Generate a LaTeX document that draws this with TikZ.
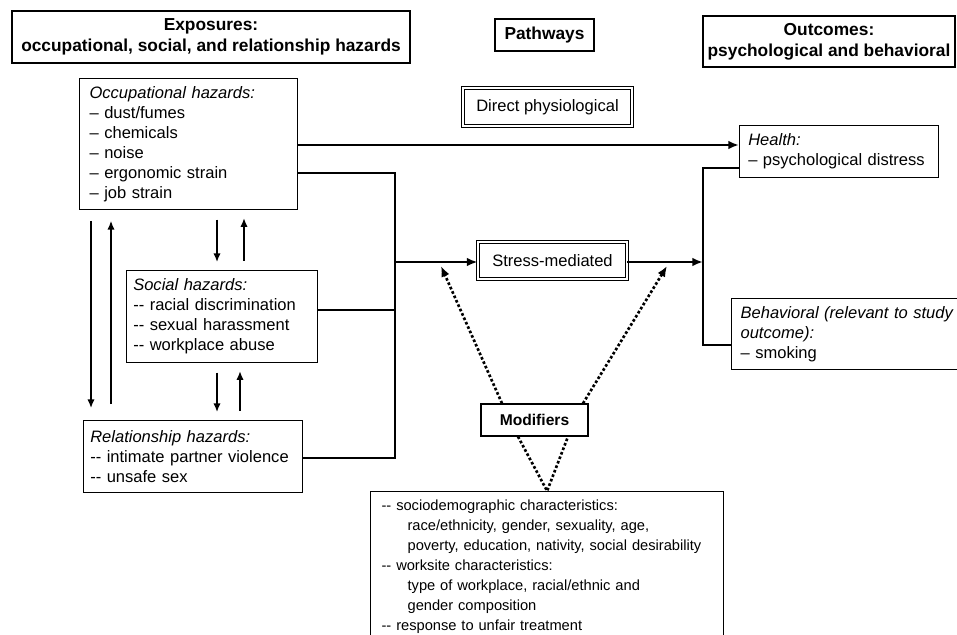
\documentclass[tikz,border=0pt]{standalone}
\usepackage{fontspec}
\setmainfont{Liberation Sans}
\usetikzlibrary{positioning,arrows.meta}
\tikzset{
  box/.style={draw=black, line width=0.9pt, inner xsep=5pt, inner ysep=4pt, align=left, font=\fontsize{12.4}{15}\selectfont},
  listbox/.style={draw=black, line width=0.9pt, inner xsep=8.25pt, inner ysep=6pt, align=left, font=\fontsize{11}{15}\selectfont},
  head/.style={draw=black, line width=0.9pt, align=center, inner sep=2pt, font=\bfseries\fontsize{13}{16}\selectfont},
  dbox/.style={draw=black, double, double distance=1.6pt, line width=0.7pt, align=center, font=\fontsize{12.4}{15}\selectfont},
  link/.style={line width=1.8pt},
  flow/.style={line width=1.8pt, -{Latex[length=8pt,width=6.5pt]}},
  varr/.style={line width=1.1pt, -{Latex[length=6.5pt,width=5.5pt]}, shorten <=7pt, shorten >=6pt},
  dotarr/.style={line width=2pt, dash pattern=on 2pt off 1.6pt, -{Latex[length=8pt,width=6.5pt]}},
  dotlink/.style={line width=2pt, dash pattern=on 2pt off 1.6pt}
}
\begin{document}
\begin{tikzpicture}[x=0.75pt, y=-0.75pt]
  \useasboundingbox (0,0) rectangle (957,635);
  \clip (0,0) rectangle (957,635);

  % Column headers
  \node[head, minimum width=298.5pt, minimum height=39pt] (exphead) at (211,37) {Exposures:\\occupational, social, and relationship hazards};
  \node[head, minimum width=74.25pt, minimum height=24pt] (pathhead) at (544.5,35) {Pathways};
  \node[head, minimum width=189pt, minimum height=38.25pt] (outhead) at (829,41.5) {Outcomes:\\psychological and behavioral};

  % Exposures
  \node[box, anchor=north west, inner xsep=7.5pt, text width=148.5pt, minimum height=98.25pt] (occ) at (79,78) {\textit{Occupational hazards:}\\\textendash{} dust/fumes\\\textendash{} chemicals\\\textendash{} noise\\\textendash{} ergonomic strain\\\textendash{} job strain};
  \node[box, anchor=north west, text width=133.25pt, minimum height=69pt] (social) at (126,270) {\textit{Social hazards:}\\-{}- racial discrimination\\-{}- sexual harassment\\-{}- workplace abuse};
  \node[box, anchor=north west, text width=154.25pt, minimum height=54pt] (rel) at (83,420) {\textit{Relationship hazards:}\\-{}- intimate partner violence\\-{}- unsafe sex};

  % Pathways
  \node[dbox, minimum width=126.75pt, minimum height=28.5pt] (direct) at (547.5,107) {Direct physiological};
  \node[dbox, minimum width=111.75pt, minimum height=27.75pt] (stress) at (552.5,260.5) {Stress-mediated};
  \node[head, font=\bfseries\fontsize{11.7}{14}\selectfont, minimum width=80.25pt, minimum height=24pt] (mod) at (534.5,420) {Modifiers};
  \node[listbox, anchor=north west, text width=248.25pt] (modlist) at (370,491) {-{}- sociodemographic characteristics:\\
    \hspace*{19.5pt}race/ethnicity, gender, sexuality, age,\\
    \hspace*{19.5pt}poverty, education, nativity, social desirability\\
    -{}- worksite characteristics:\\
    \hspace*{19.5pt}type of workplace, racial/ethnic and\\
    \hspace*{19.5pt}gender composition\\
    -{}- response to unfair treatment};

  % Outcomes
  \node[box, anchor=north west, inner xsep=6.5pt, text width=136pt, minimum height=39pt] (health) at (739,125) {\textit{Health:}\\\textendash{} psychological distress};
  \node[box, anchor=north west, inner xsep=6.75pt, text width=170pt, minimum height=53.25pt] (behav) at (731,298) {\textit{Behavioral (relevant to study}\\\textit{outcome):}\\\textendash{} smoking};

  % Bus points
  \coordinate (busT) at (395,173);
  \coordinate (busS) at (395,310);
  \coordinate (busM) at (395,262);
  \coordinate (busB) at (395,458);
  \coordinate (outT) at (703,168);
  \coordinate (outM) at (703,262);
  \coordinate (outB) at (703,345);
  \coordinate (dirIn) at (739,145);

  % Solid connectors
  \draw[flow] (occ.east |- dirIn) -- (health.west |- dirIn);
  \draw[link] (occ.east |- busT) -- (busT) -- (busB) -- (rel.east |- busB);
  \draw[link] (social.east |- busS) -- (busS);
  \draw[flow] (busM) -- (stress.west |- busM);
  \draw[flow] (stress.east |- outM) -- (outM);
  \draw[link] (health.west |- outT) -- (outT) -- (outB) -- (behav.west |- outB);

  % Two-way arrows between hazard boxes
  \foreach \name/\x in {osD/217, osU/244, srD/217, srU/240, orD/91, orU/111}
    \coordinate (\name) at (\x,0);
  \draw[varr] (occ.south -| osD) -- (social.north -| osD);
  \draw[varr] (social.north -| osU) -- (occ.south -| osU);
  \draw[varr] (social.south -| srD) -- (rel.north -| srD);
  \draw[varr] (rel.north -| srU) -- (social.south -| srU);
  \draw[varr, shorten <=8pt, shorten >=9pt] (occ.south -| orD) -- (rel.north -| orD);
  \draw[varr, shorten <=12pt, shorten >=8pt] (rel.north -| orU) -- (occ.south -| orU);

  % Modifier links
  \coordinate (dotL) at (441,266);
  \coordinate (dotR) at (667,266);
  \coordinate (mtL) at (502,0);
  \coordinate (mtR) at (583,0);
  \coordinate (mbL) at (518,0);
  \coordinate (mbR) at (568,0);
  \draw[dotarr] (mod.north -| mtL) -- (dotL);
  \draw[dotarr] (mod.north -| mtR) -- (dotR);
  \draw[dotlink] (mod.south -| mbL) -- (modlist.north) -- (mod.south -| mbR);
\end{tikzpicture}
\end{document}
